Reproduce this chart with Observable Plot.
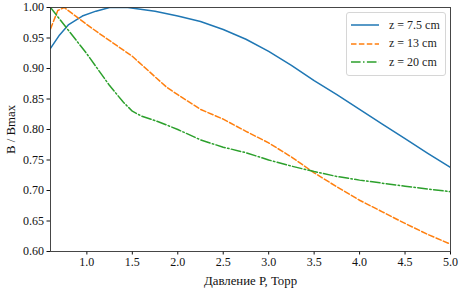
<!DOCTYPE html>
<html>
<head>
<meta charset="utf-8">
<script src="https://cdn.jsdelivr.net/npm/d3@7"></script>
<script src="https://cdn.jsdelivr.net/npm/@observablehq/plot@0.6"></script>
<style>
  body { margin: 0; background: #fff; }
  #wrap { position: relative; width: 461px; height: 288px; font-family: 'Liberation Serif', serif; }
  #legend { position: absolute; left: 346px; top: 12px; width: 100px; height: 64px; border: 1px solid #d6d6d6; border-radius: 3px; background: rgba(255,255,255,0.85); box-sizing: border-box; font-family: 'Liberation Serif', serif; font-size: 12px; color: #222; }
  .row { position: absolute; left: 4px; height: 14px; display: flex; align-items: center; }
  .row svg { margin-right: 10px; }
</style>
</head>
<body>
<div id="wrap"></div>
<script>
const seriesNames = ["z = 7.5 cm", "z = 13 cm", "z = 20 cm"];
const seriesColors = ["#1f77b4", "#ff7f0e", "#2ca02c"];
const seriesDash = ["none", "5.5,2.4", "9.6,2.4,1.5,2.4"];

const p75 = [0.6, 0.7, 0.8, 0.95, 1.1, 1.25, 1.45, 1.75, 2.0, 2.25, 2.5, 2.75, 3.0, 3.25, 3.5, 3.75, 4.0, 4.25, 4.5, 4.75, 5.0];
const b75 = [0.933, 0.955, 0.972, 0.986, 0.994, 1.000, 1.000, 0.994, 0.986, 0.977, 0.964, 0.948, 0.928, 0.905, 0.880, 0.857, 0.833, 0.809, 0.785, 0.761, 0.738];

const p13 = [0.6, 0.68, 0.75, 1.0, 1.15, 1.5, 1.88, 2.0, 2.25, 2.5, 2.75, 3.0, 3.25, 3.5, 3.75, 4.0, 4.25, 4.5, 4.75, 5.0];
const b13 = [0.965, 0.995, 1.0, 0.972, 0.956, 0.920, 0.869, 0.857, 0.833, 0.817, 0.797, 0.778, 0.755, 0.729, 0.706, 0.684, 0.665, 0.646, 0.628, 0.612];

const p20 = [0.6, 0.8, 1.0, 1.25, 1.4, 1.5, 1.6, 1.8, 2.0, 2.25, 2.5, 2.75, 3.0, 3.25, 3.5, 3.75, 4.0, 4.5, 5.0];
const b20 = [1.0, 0.962, 0.924, 0.872, 0.845, 0.830, 0.822, 0.812, 0.800, 0.783, 0.771, 0.762, 0.750, 0.740, 0.731, 0.723, 0.717, 0.707, 0.698];

const xTicks = [1.0, 1.5, 2.0, 2.5, 3.0, 3.5, 4.0, 4.5, 5.0];
const yTicks = [0.60, 0.65, 0.70, 0.75, 0.80, 0.85, 0.90, 0.95, 1.00];

const xs = [p75, p13, p20];
const ys = [b75, b13, b20];
const tables = xs.map((px, i) => px.map((p, j) => ({p, b: ys[i][j]})));

const chart = Plot.plot({
  width: 461,
  height: 288,
  marginLeft: 50,
  marginRight: 11,
  marginTop: 7,
  marginBottom: 37,
  style: "font-family: 'Liberation Serif', serif; font-size: 12px; color: #111; background: #fff;",
  x: { domain: [0.6, 5.0], ticks: xTicks, tickFormat: d3.format(".1f"), label: "Давление P, Торр", labelAnchor: "center", labelArrow: "none", labelOffset: 33, tickSize: 3.5, tickPadding: 2 },
  y: { domain: [0.6, 1.0], ticks: yTicks, tickFormat: d3.format(".2f"), label: "B / Bmax", labelAnchor: "center", labelArrow: "none", labelOffset: 45, tickSize: 3.5, tickPadding: 3 },
  marks: [
    ...tables.map((t, i) => Plot.line(t, { x: "p", y: "b", stroke: seriesColors[i], strokeWidth: 1.5, strokeDasharray: seriesDash[i], clip: true })),
    Plot.frame({ stroke: "#333", strokeWidth: 0.9 })
  ]
});
d3.select(chart).selectAll("text").style("font-family", "'Liberation Serif', serif").style("font-size", "12px");
d3.select(chart).selectAll("[aria-label='y-axis label'] text, [aria-label='x-axis label'] text").style("font-size", "12.8px");

const wrap = document.getElementById("wrap");
wrap.appendChild(chart);

const legend = document.createElement("div");
legend.id = "legend";
seriesNames.forEach((name, i) => {
  const row = document.createElement("div");
  row.className = "row";
  row.style.top = (5 + i * 18.5) + "px";
  row.innerHTML = `<svg width="28" height="6"><line x1="0" y1="3" x2="28" y2="3" stroke="${seriesColors[i]}" stroke-width="1.5" stroke-dasharray="${seriesDash[i]}"/></svg><span>${name}</span>`;
  legend.appendChild(row);
});
wrap.appendChild(legend);
</script>
</body>
</html>
